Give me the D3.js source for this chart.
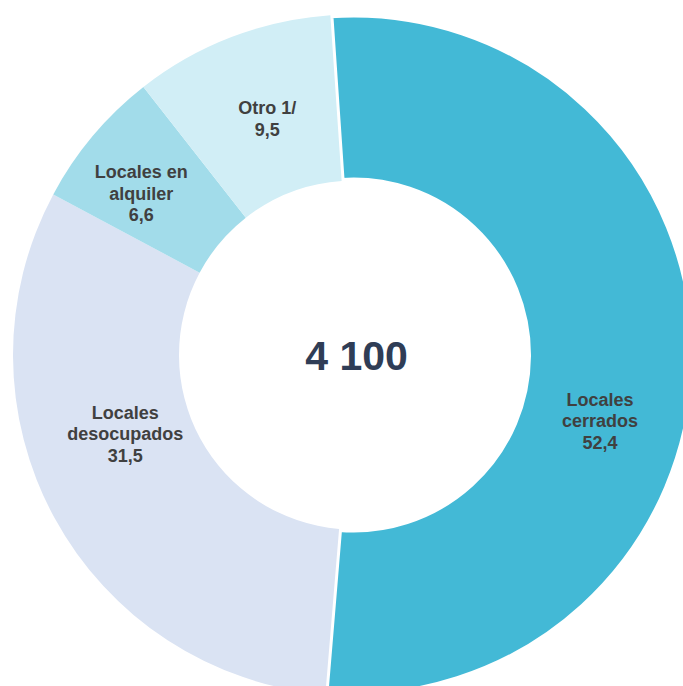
<!DOCTYPE html>
<html>
<head>
<meta charset="utf-8">
<script src="https://cdn.jsdelivr.net/npm/d3@7"></script>
<style>
  html, body { margin: 0; padding: 0; background: #ffffff; }
  svg { display: block; }
</style>
</head>
<body>
<svg id="chart" width="683" height="686"></svg>
<script>
// ---- data ----
const categories = ["Locales cerrados", "Locales desocupados", "Locales en alquiler", "Otro 1/"];
const labelLines = [["Locales", "cerrados"], ["Locales", "desocupados"], ["Locales en", "alquiler"], ["Otro 1/"]];
const values = [52.4, 31.5, 6.6, 9.5];
const valueLabels = ["52,4", "31,5", "6,6", "9,5"];
const totalLabel = "4 100";
const colors = ["#43B9D6", "#DAE3F3", "#A2DCEA", "#D1EEF6"];

// ---- layout ----
const W = 683, H = 686;
const cx = 353.5, cy = 355;
const rOuter = 340.5, rInner = 174.5;
const startDeg = -3.9;
const labelOffsets = [[-11, 64], [-2, -44], [-15, 4], [6, 4]];

const svg = d3.select("#chart");
const g = svg.append("g").attr("transform", `translate(${cx},${cy})`);

const pie = d3.pie().sort(null).value(d => d)
  .startAngle(startDeg * Math.PI / 180)
  .endAngle(startDeg * Math.PI / 180 + 2 * Math.PI);
const arcs = pie(values);
const arc = d3.arc().innerRadius(rInner).outerRadius(rOuter);
const labelArc = d3.arc().innerRadius((rInner + rOuter) / 2).outerRadius((rInner + rOuter) / 2);

g.selectAll("path.slice").data(arcs).join("path")
  .attr("class", "slice")
  .attr("d", arc)
  .attr("fill", (d, i) => colors[i])
  .attr("stroke", (d, i) => i === 0 ? "#ffffff" : "none")
  .attr("stroke-width", 6)
  .attr("stroke-linejoin", "miter");

// labels
const lineH = 21.5;
arcs.forEach((d, i) => {
  const c = labelArc.centroid(d);
  const x = c[0] + labelOffsets[i][0];
  const y = c[1] + labelOffsets[i][1];
  const lines = labelLines[i].concat([valueLabels[i]]);
  const n = lines.length;
  const t = g.append("text")
    .attr("text-anchor", "middle")
    .attr("font-family", "Liberation Sans, Arial, sans-serif")
    .attr("font-weight", "bold")
    .attr("font-size", 18)
    .attr("fill", "#404040");
  lines.forEach((ln, k) => {
    t.append("tspan")
      .attr("x", x)
      .attr("y", y + (k - (n - 1) / 2) * lineH)
      .attr("dy", "0.35em")
      .text(ln);
  });
});

// center total
g.append("text")
  .attr("x", 3)
  .attr("y", 1)
  .attr("dy", "0.35em")
  .attr("text-anchor", "middle")
  .attr("font-family", "Liberation Sans, Arial, sans-serif")
  .attr("font-weight", "bold")
  .attr("font-size", 41)
  .attr("fill", "#2F3D56")
  .text(totalLabel);
</script>
</body>
</html>
